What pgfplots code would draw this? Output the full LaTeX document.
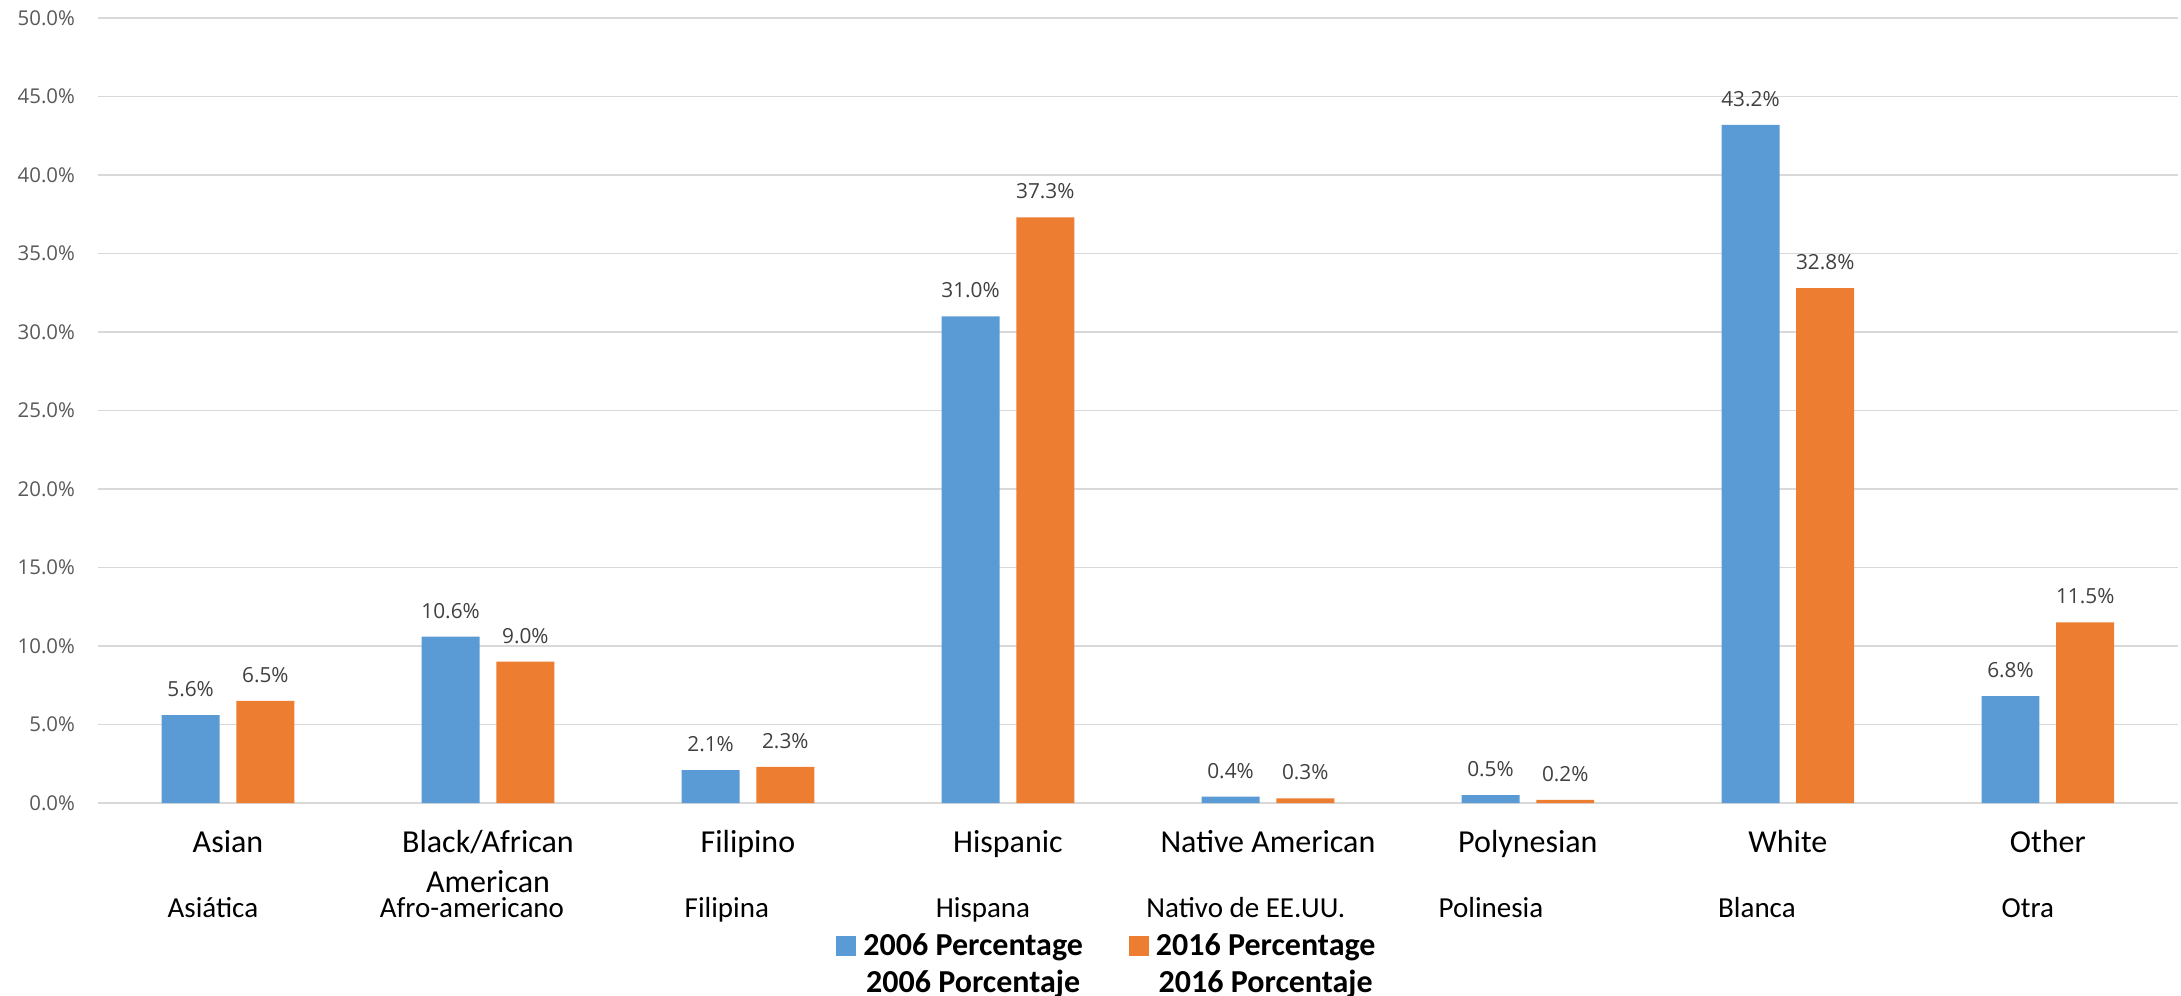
\documentclass[border=0pt]{standalone}
\usepackage{pgfplots}
\pgfplotsset{compat=1.18}
\usepackage{fontspec}
\setmainfont{Carlito}
\newfontfamily\osans{Open Sans}
\definecolor{blue06}{HTML}{5B9BD5}
\definecolor{orange16}{HTML}{ED7D31}
\definecolor{gridgray}{HTML}{D9D9D9}
\definecolor{ticktext}{HTML}{595959}
\definecolor{datatext}{HTML}{404040}
\begin{document}
\begin{tikzpicture}
\useasboundingbox (-49pt,-96.5pt) rectangle (1041.5pt,401.5pt);
\begin{axis}[
  at={(0,0)}, anchor=south west,
  scale only axis, width=1040pt, height=392.5pt,
  ybar, bar width=0.223,
  xmin=-0.5, xmax=7.5, ymin=0, ymax=50,
  axis line style={draw=none},
  tick style={draw=none},
  ytick={0,5,10,15,20,25,30,35,40,45,50},
  yticklabels={0.0\%,5.0\%,10.0\%,15.0\%,20.0\%,25.0\%,30.0\%,35.0\%,40.0\%,45.0\%,50.0\%},
  ymajorgrids,
  major grid style={draw=gridgray, line width=0.9pt},
  yticklabel style={font=\osans\fontsize{10.2}{12}\selectfont, text=ticktext, xshift=-8pt},
  xtick={0,1,2,3,4,5,6,7},
  xticklabels={Asian,{Black/African\\American},Filipino,Hispanic,Native American,Polynesian,White,Other},
  xticklabel style={font=\fontsize{16}{20}\selectfont, align=center, anchor=north, yshift=-6pt},
  clip=false,
  legend columns=2,
  legend style={at={(0.4856,-0.208)}, anchor=center, draw=none, fill=none,
    font=\fontsize{16}{18.5}\selectfont\bfseries,
    nodes={inner sep=2pt, text depth=},
    /tikz/every even column/.append style={column sep=21pt},
    /tikz/every odd column/.append style={column sep=1.5pt}},
  legend image code/.code={\fill[#1] (0pt,5pt) rectangle (10pt,15pt);},
  nodes near coords={\pgfmathprintnumber[fixed,fixed zerofill,precision=1,assume math mode=true]{\pgfplotspointmeta}\%},
  every node near coord/.append style={font=\osans\fontsize{10.4}{12}\selectfont, text=datatext, yshift=5.6pt},
]
\addplot[bar shift=-0.1437, fill=blue06, draw=none] coordinates {
  (0,5.6) (1,10.6) (2,2.1) (3,31.0) (4,0.4) (5,0.5) (6,43.2) (7,6.8)};
\addlegendentry{\begin{tabular}{@{}c@{}}2006 Percentage\\2006 Porcentaje\end{tabular}}
\addplot[bar shift=0.1437, fill=orange16, draw=none] coordinates {
  (0,6.5) (1,9.0) (2,2.3) (3,37.3) (4,0.3) (5,0.2) (6,32.8) (7,11.5)};
\addlegendentry{\begin{tabular}{@{}c@{}}2016 Percentage\\2016 Porcentaje\end{tabular}}
\begin{scope}[every node/.style={font=\fontsize{14.5}{17}\selectfont, anchor=base, yshift=-57pt}]
\node at (axis cs:-0.058,0) {Asiática};
\node at (axis cs:0.938,0) {Afro-americano};
\node at (axis cs:1.919,0) {Filipina};
\node at (axis cs:2.904,0) {Hispana};
\node at (axis cs:3.915,0) {Nativo de EE.UU.};
\node at (axis cs:4.858,0) {Polinesia};
\node at (axis cs:5.881,0) {Blanca};
\node at (axis cs:6.923,0) {Otra};
\end{scope}
\end{axis}
\end{tikzpicture}
\end{document}
